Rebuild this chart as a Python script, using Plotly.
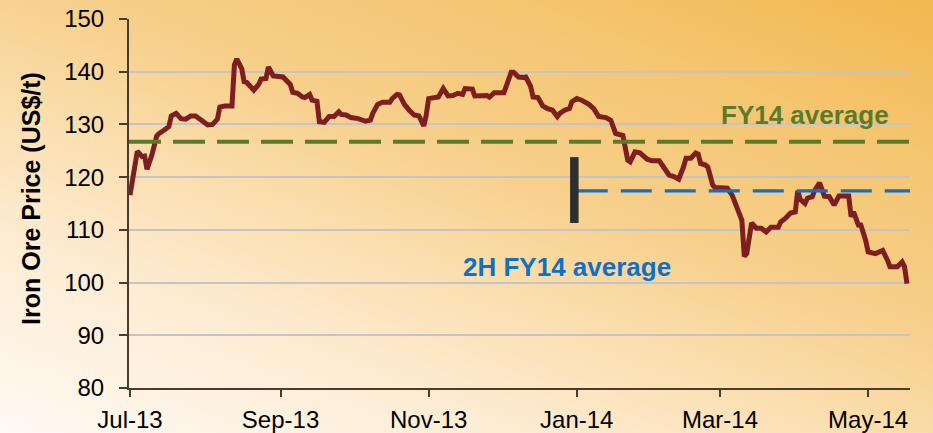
import base64
import plotly.graph_objects as go

# ---- data ----
dates = [
    "2013-07-01", "2013-07-02", "2013-07-04", "2013-07-06", "2013-07-07", "2013-07-08",
    "2013-07-10", "2013-07-12", "2013-07-13", "2013-07-15", "2013-07-17", "2013-07-18",
    "2013-07-20", "2013-07-22", "2013-07-24", "2013-07-26", "2013-07-28", "2013-07-31",
    "2013-08-02", "2013-08-04", "2013-08-06", "2013-08-07", "2013-08-09", "2013-08-12",
    "2013-08-13", "2013-08-14", "2013-08-16", "2013-08-17", "2013-08-18", "2013-08-21",
    "2013-08-23", "2013-08-24", "2013-08-26", "2013-08-27", "2013-08-29", "2013-09-02",
    "2013-09-05", "2013-09-06", "2013-09-08", "2013-09-10", "2013-09-11", "2013-09-13",
    "2013-09-14", "2013-09-16", "2013-09-17", "2013-09-19", "2013-09-21", "2013-09-23",
    "2013-09-25", "2013-09-26", "2013-09-28", "2013-09-30", "2013-10-03", "2013-10-06",
    "2013-10-08", "2013-10-09", "2013-10-11", "2013-10-13", "2013-10-16", "2013-10-17",
    "2013-10-19", "2013-10-20", "2013-10-22", "2013-10-24", "2013-10-26", "2013-10-28",
    "2013-10-30", "2013-10-31", "2013-11-01", "2013-11-05", "2013-11-07", "2013-11-09",
    "2013-11-11", "2013-11-13", "2013-11-15", "2013-11-16", "2013-11-19", "2013-11-20",
    "2013-11-23", "2013-11-25", "2013-11-26", "2013-11-28", "2013-12-02", "2013-12-03",
    "2013-12-05", "2013-12-06", "2013-12-08", "2013-12-10", "2013-12-11", "2013-12-13",
    "2013-12-14", "2013-12-16", "2013-12-18", "2013-12-20", "2013-12-22", "2013-12-24",
    "2013-12-25", "2013-12-27", "2013-12-29", "2013-12-30", "2014-01-01", "2014-01-03",
    "2014-01-05", "2014-01-06", "2014-01-08", "2014-01-10", "2014-01-13", "2014-01-15",
    "2014-01-17", "2014-01-19", "2014-01-20", "2014-01-22", "2014-01-23", "2014-01-25",
    "2014-01-27", "2014-01-30", "2014-02-01", "2014-02-04", "2014-02-06", "2014-02-08",
    "2014-02-10", "2014-02-12", "2014-02-14", "2014-02-15", "2014-02-17", "2014-02-19",
    "2014-02-20", "2014-02-21", "2014-02-23", "2014-02-24", "2014-02-26", "2014-02-27",
    "2014-03-01", "2014-03-04", "2014-03-06", "2014-03-08", "2014-03-09", "2014-03-10",
    "2014-03-11", "2014-03-12", "2014-03-14", "2014-03-16", "2014-03-18", "2014-03-20",
    "2014-03-22", "2014-03-25", "2014-03-26", "2014-03-28", "2014-03-30", "2014-04-01",
    "2014-04-02", "2014-04-03", "2014-04-05", "2014-04-06", "2014-04-08", "2014-04-09",
    "2014-04-11", "2014-04-12", "2014-04-13", "2014-04-15", "2014-04-17", "2014-04-19",
    "2014-04-23", "2014-04-24", "2014-04-25", "2014-04-27", "2014-04-28", "2014-04-30",
    "2014-05-01", "2014-05-04", "2014-05-06", "2014-05-07", "2014-05-09", "2014-05-10",
    "2014-05-13", "2014-05-15", "2014-05-16", "2014-05-17",
]
prices = [
    116.6, 119.1, 124.9, 123.9, 124.0, 121.5,
    124.2, 127.8, 128.3, 128.9, 129.6, 131.6,
    132.1, 131.1, 131.0, 131.6, 131.6, 130.6,
    129.9, 130.0, 131.0, 133.3, 133.5, 133.5,
    141.3, 142.4, 140.6, 138.1, 138.0, 136.5,
    137.6, 138.6, 138.7, 140.9, 139.2, 139.0,
    137.6, 136.1, 135.9, 135.2, 135.1, 135.7,
    134.6, 134.4, 130.5, 130.4, 131.5, 131.5,
    132.4, 131.9, 131.8, 131.3, 131.1, 130.6,
    130.8, 132.1, 133.8, 134.2, 134.2, 134.9,
    135.7, 135.6, 133.8, 132.7, 131.8, 131.6,
    129.7, 131.8, 134.9, 135.2, 136.8, 135.4,
    135.5, 135.9, 135.7, 136.8, 136.7, 135.4,
    135.5, 135.5, 135.2, 136.0, 136.0, 137.5,
    139.9, 139.9, 139.0, 138.9, 139.0, 137.2,
    135.2, 135.1, 133.5, 133.0, 132.7, 131.5,
    132.1, 132.7, 133.0, 134.3, 134.9, 134.6,
    134.2, 133.8, 133.0, 131.5, 131.3, 130.8,
    128.3, 128.0, 127.9, 123.2, 122.9, 124.8,
    124.6, 123.4, 123.1, 123.1, 121.8, 120.4,
    120.1, 119.6, 122.0, 123.6, 123.6, 124.6,
    124.4, 122.6, 122.3, 121.9, 118.5, 118.0,
    118.0, 117.9, 116.6, 114.1, 112.4, 111.8,
    105.0, 105.5, 111.3, 110.3, 110.3, 109.6,
    110.5, 110.5, 111.5, 112.2, 113.2, 113.4,
    117.4, 115.8, 115.0, 116.0, 116.3, 117.5,
    118.9, 117.2, 116.4, 116.3, 114.7, 116.4,
    116.4, 112.5, 113.4, 110.9, 110.9, 108.0,
    105.8, 105.5, 105.8, 106.1, 104.2, 103.0,
    103.0, 103.9, 103.0, 99.8,
]

fy14_average = 126.7
h2_fy14_average = 117.4
h2_start = "2014-01-01"
marker_date = "2013-12-31"
marker_range = [111.3, 123.8]
x_range = ["2013-06-30 14:00", "2014-05-18 06:00"]
y_range = [80, 150]

fy14_label = "FY14 average"
h2_label = "2H FY14 average"
y_title = "Iron Ore Price (US$/t)"

# ---- background gradient (style only) ----
svg = (
    '<svg xmlns="http://www.w3.org/2000/svg" width="933" height="433" '
    'viewBox="0 0 933 433" preserveAspectRatio="none">'
    '<defs><linearGradient id="g" gradientUnits="userSpaceOnUse" '
    'x1="0" y1="433" x2="261" y2="-255">'
    '<stop offset="0" stop-color="#fffaf4"/>'
    '<stop offset="0.25" stop-color="#fdecd3"/>'
    '<stop offset="0.45" stop-color="#fadca8"/>'
    '<stop offset="0.57" stop-color="#f7d08d"/>'
    '<stop offset="0.78" stop-color="#f5c672"/>'
    '<stop offset="1" stop-color="#f2b84f"/>'
    '</linearGradient></defs>'
    '<rect width="933" height="433" fill="url(#g)"/></svg>'
)
svg_uri = "data:image/svg+xml;base64," + base64.b64encode(svg.encode()).decode()

FONT = "Arial, Liberation Sans, sans-serif"
AXIS_COLOR = "#4a3b2c"

fig = go.Figure()

fig.add_trace(go.Scatter(
    x=dates, y=prices, mode="lines",
    line=dict(color="#7d1e20", width=5),
    hoverinfo="x+y", showlegend=False,
))

# FY14 average (full width)
fig.add_shape(type="line", xref="paper", yref="y", x0=0, x1=1,
              y0=fy14_average, y1=fy14_average,
              line=dict(color="#5b7b2b", width=4, dash="32px,12px"))
# 2H FY14 average
fig.add_shape(type="line", xref="x", yref="y", x0=h2_start, x1=x_range[1],
              y0=h2_fy14_average, y1=h2_fy14_average,
              line=dict(color="#0f70c4", width=3.3, dash="31px,13px"))
# half-year marker bar
fig.add_shape(type="line", xref="x", yref="y", x0=marker_date, x1=marker_date,
              y0=marker_range[0], y1=marker_range[1],
              line=dict(color="#2e2e2e", width=8.5))

fig.add_annotation(xref="paper", yref="y", x=0.866, y=131.8, text=f"<b>{fy14_label}</b>",
                   showarrow=False, xanchor="center", yanchor="middle",
                   font=dict(family=FONT, size=26, color="#5b7b2b"))
fig.add_annotation(xref="paper", yref="y", x=0.561, y=103.0, text=f"<b>{h2_label}</b>",
                   showarrow=False, xanchor="center", yanchor="middle",
                   font=dict(family=FONT, size=26, color="#0f70c4"))
fig.add_annotation(xref="paper", yref="paper", x=-0.1255, y=0.515, text=f"<b>{y_title}</b>",
                   textangle=-90, showarrow=False, xanchor="center", yanchor="middle",
                   font=dict(family=FONT, size=25, color="#000000"))

fig.update_layout(
    width=933, height=433,
    autosize=False,
    margin=dict(l=129, r=23, t=19, b=45, pad=0, autoexpand=False),
    paper_bgcolor="rgba(0,0,0,0)",
    plot_bgcolor="rgba(0,0,0,0)",
    images=[dict(source=svg_uri, xref="paper", yref="paper", x=-129/781, y=1 + 19/369,
                 sizex=933/781, sizey=433/369, xanchor="left", yanchor="top",
                 sizing="stretch", layer="below")],
    font=dict(family=FONT, size=24, color="#000000"),
    xaxis=dict(
        type="date", range=x_range, tick0="2013-07-01", dtick="M2", tickformat="%b-%y",
        showgrid=False, zeroline=False, showline=True, linecolor=AXIS_COLOR, linewidth=2,
        ticks="outside", ticklen=7, tickwidth=1.5, tickcolor=AXIS_COLOR, automargin=False,
        tickfont=dict(family=FONT, size=24, color="#000000"),
        ticklabelstandoff=2,
    ),
    yaxis=dict(
        range=y_range, tick0=80, dtick=10, automargin=False,
        showgrid=True, gridcolor="#c3c3c8", gridwidth=2, zeroline=False,
        showline=True, linecolor=AXIS_COLOR, linewidth=2,
        ticks="outside", ticklen=8, tickwidth=1.5, tickcolor=AXIS_COLOR,
        tickfont=dict(family=FONT, size=24, color="#000000"),
        ticklabelstandoff=10,
    ),
)

fig.write_html(
    "out.html",
    config={"displayModeBar": False},
    post_script="document.body.style.margin='0';document.body.style.overflow='hidden';",
)
